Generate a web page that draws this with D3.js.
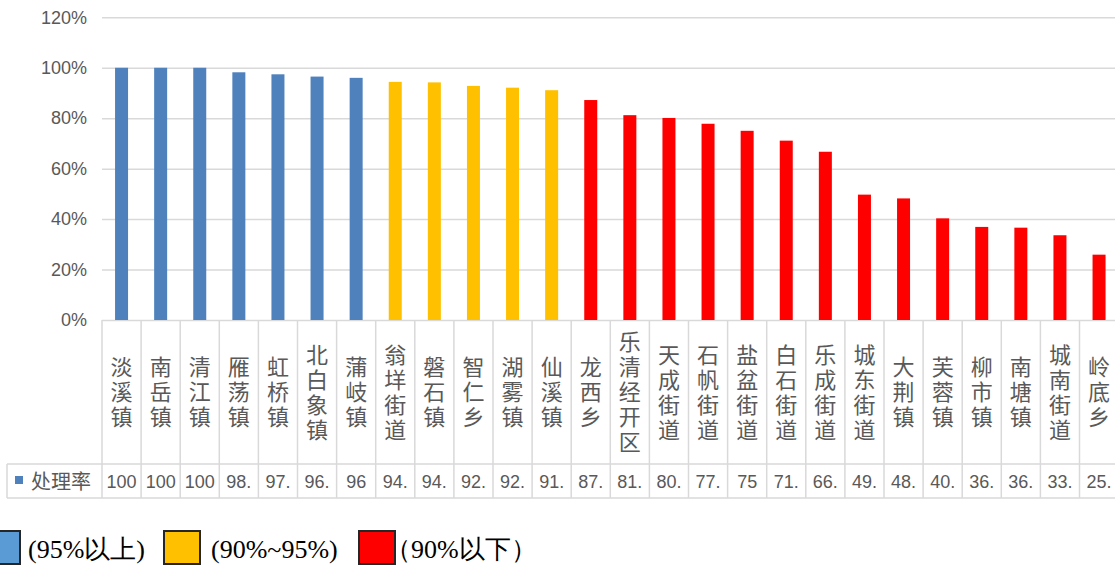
<!DOCTYPE html>
<html>
<head>
<meta charset="utf-8">
<script src="https://d3js.org/d3.v7.min.js"></script>
<style>
	body { margin: 0; background: #fff; }
	svg { display: block; }
</style>
</head>
<body>
<div id="chart"></div>
<script>
var categories = ["淡溪镇", "南岳镇", "清江镇", "雁荡镇", "虹桥镇", "北白象镇", "蒲岐镇",
	"翁垟街道", "磐石镇", "智仁乡", "湖雾镇", "仙溪镇",
	"龙西乡", "乐清经开区", "天成街道", "石帆街道", "盐盆街道", "白石街道", "乐成街道",
	"城东街道", "大荆镇", "芙蓉镇", "柳市镇", "南塘镇", "城南街道", "岭底乡"];
var rates = [100, 100, 100, 98.2, 97.4, 96.5, 96,
	94.4, 94.2, 92.8, 92.1, 91.1,
	87.2, 81.2, 80.1, 77.8, 75, 71.1, 66.7,
	49.7, 48.2, 40.3, 36.9, 36.6, 33.6, 25.9];
var yTicks = [0, 20, 40, 60, 80, 100, 120];
var seriesName = "处理率";
var legendLabels = ["(95%以上)", "(90%~95%)", "（90%以下）"];

var width = 1115, height = 567,
	plotLeft = 102, plotTop = 17.3, plotBottom = 320,
	bandW = 39.1,
	tableLeft = 7, rowTop = 464, rowBottom = 498,
	grid = "#d9d9d9", textCol = "#595959";

var colour = d3.scaleThreshold()
	.domain([90, 95])
	.range(["#ff0000", "#ffc000", "#4f81bd"]);

var svg = d3.select("#chart")
	.append("svg")
	.attr("width", width)
	.attr("height", height)
	.style("font-family", "'Liberation Sans', 'Noto Sans CJK SC', sans-serif");

svg.append("rect").attr("width", width).attr("height", height).attr("fill", "#fff");

var xScale = d3.scaleBand()
	.domain(categories)
	.range([plotLeft, plotLeft + bandW * categories.length])
	.padding(0);

var yScale = d3.scaleLinear()
	.domain([0, 120])
	.range([plotBottom, plotTop]);

// gridlines
var gridAxis = d3.axisLeft(yScale)
	.tickValues(yTicks)
	.tickSize(-(width - plotLeft))
	.tickFormat("");
var gridG = svg.append("g")
	.attr("transform", "translate(" + plotLeft + ",0)")
	.call(gridAxis);
gridG.select(".domain").remove();
gridG.selectAll("line").attr("stroke", grid).attr("stroke-width", 1.5);

// y labels
var yAxis = d3.axisLeft(yScale)
	.tickValues(yTicks)
	.tickSize(0)
	.tickPadding(0)
	.tickFormat(function(d) { return d + "%"; });
var yG = svg.append("g")
	.attr("transform", "translate(87,0)")
	.call(yAxis);
yG.select(".domain").remove();
yG.selectAll("text")
	.attr("fill", textCol)
	.style("font-size", "18px")
	.style("font-family", "'Liberation Sans', sans-serif");

// bars
var barW = 13;
svg.append("g").selectAll("rect")
	.data(rates)
	.enter()
	.append("rect")
	.attr("x", function(d, i) { return xScale(categories[i]) + (xScale.bandwidth() - barW) / 2; })
	.attr("y", function(d) { return yScale(d); })
	.attr("width", barW)
	.attr("height", function(d) { return plotBottom - yScale(d); })
	.attr("fill", function(d) { return colour(d); });

// data table
var table = svg.append("g").attr("stroke", grid).attr("stroke-width", 1.5);
var edges = categories.map(function(c) { return xScale(c); });
edges.push(xScale.range()[1]);
table.selectAll("line.v")
	.data(edges)
	.enter()
	.append("line")
	.attr("x1", function(d) { return d; })
	.attr("x2", function(d) { return d; })
	.attr("y1", plotBottom)
	.attr("y2", rowBottom);
table.append("line").attr("x1", tableLeft).attr("x2", width).attr("y1", rowTop).attr("y2", rowTop);
table.append("line").attr("x1", tableLeft).attr("x2", width).attr("y1", rowBottom).attr("y2", rowBottom);
table.append("line").attr("x1", tableLeft).attr("x2", tableLeft).attr("y1", rowTop).attr("y2", rowBottom);

// category labels, written top to bottom
var lineStep = 25, labelMid = (plotBottom + rowTop) / 2;
var catText = svg.append("g").selectAll("text")
	.data(categories)
	.enter()
	.append("text")
	.attr("fill", textCol)
	.attr("text-anchor", "middle")
	.style("font-size", "22px")
	.style("font-family", "'Noto Sans CJK SC', sans-serif");
catText.each(function(c) {
	var chars = c.split(""),
		cx = xScale(c) + xScale.bandwidth() / 2,
		y0 = labelMid - chars.length * lineStep / 2 + lineStep * 0.82;
	d3.select(this).selectAll("tspan")
		.data(chars)
		.enter()
		.append("tspan")
		.attr("x", cx)
		.attr("y", function(ch, j) { return y0 + j * lineStep; })
		.text(function(ch) { return ch; });
});

// value row (Excel cuts the decimals off at the cell edge)
svg.append("g").selectAll("text")
	.data(rates)
	.enter()
	.append("text")
	.attr("x", function(d, i) { return xScale(categories[i]) + xScale.bandwidth() / 2; })
	.attr("y", 488)
	.attr("text-anchor", "middle")
	.attr("fill", textCol)
	.style("font-size", "18px")
	.text(function(d) { return Number.isInteger(d) ? String(d) : Math.floor(d) + "."; });

svg.append("rect")
	.attr("x", 15).attr("y", 476).attr("width", 8).attr("height", 8)
	.attr("fill", "#4f81bd");
svg.append("text")
	.attr("x", 31).attr("y", 489)
	.attr("fill", textCol)
	.style("font-size", "20px")
	.style("font-family", "'Noto Sans CJK SC', sans-serif")
	.text(seriesName);

// legend below the chart
var legendItems = [
	{ box: -16, text: 28, fill: "#5b9bd5" },
	{ box: 164, text: 211, fill: "#ffc000" },
	{ box: 359, text: 385, fill: "#ff0000" }
];
var legend = svg.append("g");
legend.selectAll("rect")
	.data(legendItems)
	.enter()
	.append("rect")
	.attr("x", function(d) { return d.box; })
	.attr("y", 531)
	.attr("width", 36)
	.attr("height", 33)
	.attr("fill", function(d) { return d.fill; })
	.attr("stroke", "#262626")
	.attr("stroke-width", 2);
legend.selectAll("text")
	.data(legendItems)
	.enter()
	.append("text")
	.attr("x", function(d) { return d.text; })
	.attr("y", 558)
	.attr("fill", "#000")
	.style("font-family", "'Liberation Serif', 'DejaVu Serif', serif")
	.style("font-size", "26px")
	.text(function(d, i) { return legendLabels[i]; });
</script>
</body>
</html>
